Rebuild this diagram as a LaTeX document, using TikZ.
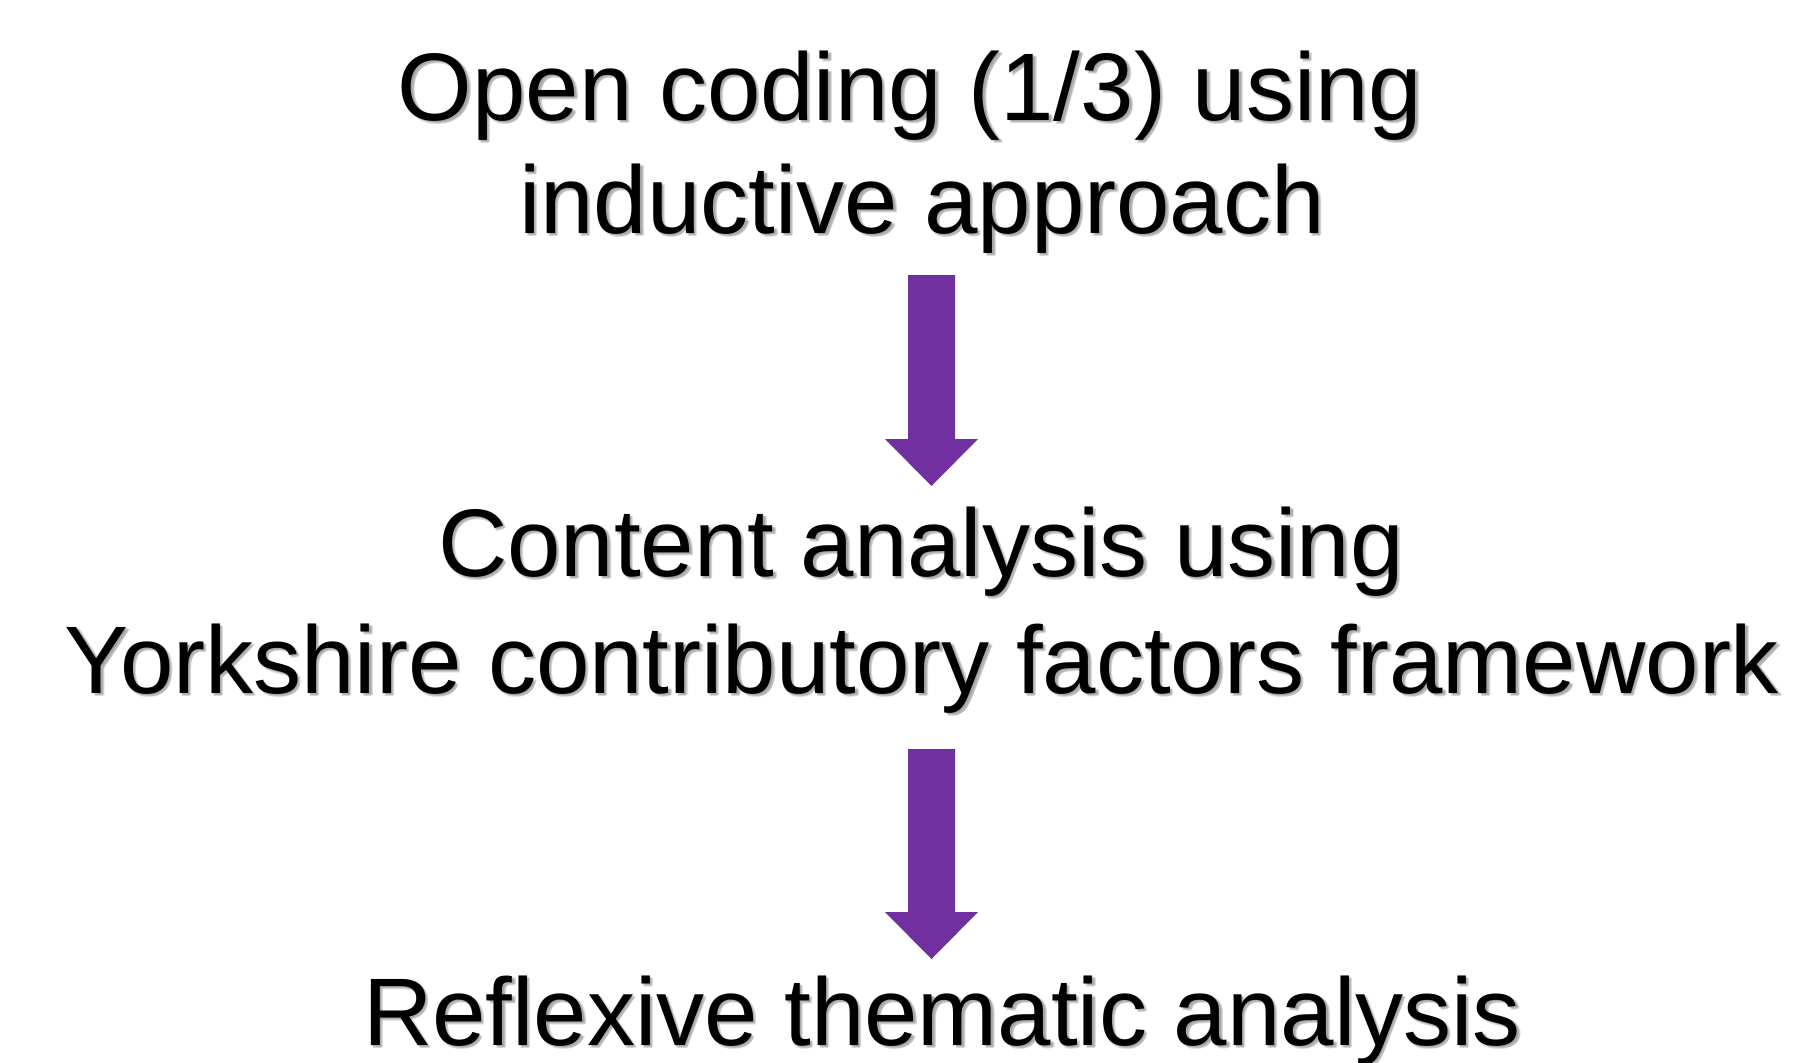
\documentclass[tikz,border=0pt]{standalone}
\usepackage{fontspec}
\setmainfont{Liberation Sans}
\usetikzlibrary{calc}
\definecolor{arrowpurple}{HTML}{7030A0}
\tikzset{
  txt/.style={anchor=base, inner sep=0pt, font=\fontsize{96}{113}\selectfont},
  shadowtxt/.style={txt, text=black!55, opacity=0.28},
  blockarrow/.style={fill=arrowpurple, draw=none}
}
\newcommand{\shtext}[3]{%
  \node[shadowtxt] at ($(#1)+(1.5,1.5)$) {#3};
  \node[shadowtxt] at ($(#1)+(2.5,3)$) {#3};
  \node[shadowtxt] at ($(#1)+(3.5,2.5)$) {#3};
  \node[txt] (#2) at (#1) {#3};
}
\newcommand{\blockarr}[2]{%
  \fill[blockarrow] ($(#1)+(-23.5,0)$) -- ($(#1)+(23.5,0)$) -- ($(#2)+(23.5,-47)$) -- ($(#2)+(46.5,-47)$) -- (#2) -- ($(#2)+(-46.5,-47)$) -- ($(#2)+(-23.5,-47)$) -- cycle;
}
\begin{document}
\begin{tikzpicture}[x=1pt,y=-1pt]
\useasboundingbox (0,0) rectangle (1805,1063);
\fill[white] (0,0) rectangle (1805,1063);
\coordinate (p1) at (910,120);
\coordinate (p2) at (922,233);
\coordinate (p3) at (921,576);
\coordinate (p4) at (922,693);
\coordinate (p5) at (942,1045);
\shtext{p1}{l1}{Open coding (1/3) using}
\shtext{p2}{l2}{inductive approach}
\shtext{p3}{l3}{Content analysis using}
\shtext{p4}{l4}{Yorkshire contributory factors framework}
\shtext{p5}{l5}{Reflexive thematic analysis}
\coordinate (a1s) at (931.5,275);
\coordinate (a1e) at (931.5,486);
\coordinate (a2s) at (931.5,749);
\coordinate (a2e) at (931.5,959);
\blockarr{a1s}{a1e}
\blockarr{a2s}{a2e}
\end{tikzpicture}
\end{document}
